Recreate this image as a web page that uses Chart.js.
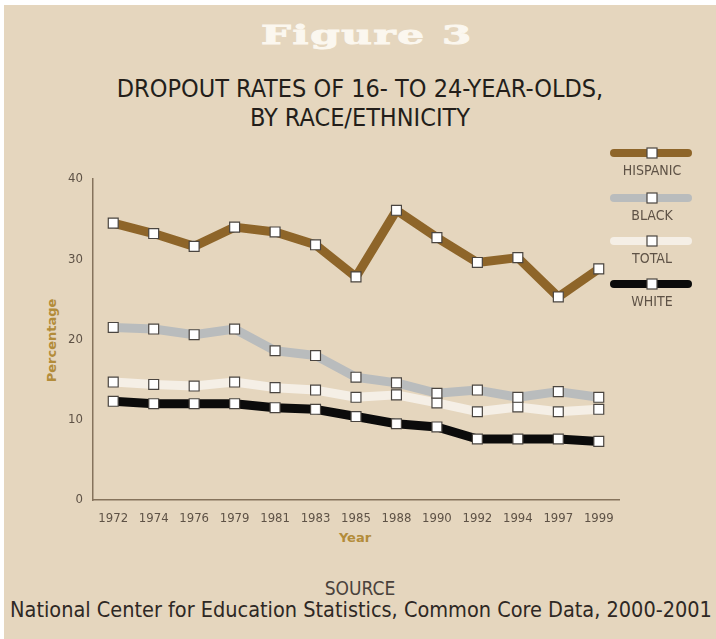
<!DOCTYPE html>
<html>
<head>
<meta charset="utf-8">
<script src="https://cdn.jsdelivr.net/npm/chart.js@4"></script>
<style>
  html, body { margin: 0; padding: 0; background: #ffffff; }
  #page {
    position: absolute; left: 4px; top: 5px; width: 712px; height: 634px;
    background: #e5d6be; overflow: hidden;
  }
  #chart { position: absolute; left: 0; top: 0; }
  .txt { position: absolute; white-space: nowrap; text-align: center; }
  #fig {
    left: 7px; width: 712px; top: 15px;
    font: 900 26px 'DejaVu Serif', serif; letter-spacing: 1px; color: #fbf7ef;
    -webkit-text-stroke: 0.9px #fbf7ef;
    transform: scaleX(1.62); transform-origin: 50% 50%;
  }
  #title {
    left: 0; width: 712px; top: 69px; line-height: 29px;
    font: 25px 'Liberation Sans Narrow', 'DejaVu Sans Condensed', sans-serif; color: #231e1a;
  }
  #ylab {
    left: -3px; top: 328px; width: 100px; transform: rotate(-90deg);
    font: bold 13px 'DejaVu Sans', sans-serif; color: #b38c3a;
  }
  #xlab {
    left: 301px; width: 100px; top: 525px;
    font: bold 13px 'DejaVu Sans', sans-serif; color: #b38c3a;
  }
  #src1 {
    left: 0; width: 712px; top: 572px;
    font: 19px 'Liberation Sans Narrow', 'DejaVu Sans Condensed', sans-serif; color: #4a423c;
  }
  #src2 {
    left: 1px; width: 712px; top: 592px;
    font: 21.5px 'Liberation Sans Narrow', 'DejaVu Sans Condensed', sans-serif; color: #2e2824;
  }
</style>
</head>
<body>
<div id="page">
  <div class="txt" id="fig">Figure 3</div>
  <div class="txt" id="title">DROPOUT RATES OF 16- TO 24-YEAR-OLDS,<br>BY RACE/ETHNICITY</div>
  <div class="txt" id="ylab">Percentage</div>
  <div class="txt" id="xlab">Year</div>
  <div class="txt" id="src1">SOURCE</div>
  <div class="txt" id="src2">National Center for Education Statistics, Common Core Data, 2000-2001</div>
  <canvas id="chart" width="712" height="634"></canvas>
</div>
<script>
// values (percent)
const years = ['1972', '1974', '1976', '1979', '1981', '1983', '1985', '1988', '1990', '1992', '1994', '1997', '1999'];
const hispanic = [34.5, 33.2, 31.6, 34.0, 33.4, 31.8, 27.8, 36.1, 32.7, 29.6, 30.2, 25.3, 28.8];
const black = [21.5, 21.3, 20.6, 21.3, 18.6, 18.0, 15.3, 14.6, 13.3, 13.7, 12.8, 13.5, 12.8];
const total = [14.7, 14.4, 14.2, 14.7, 14.0, 13.7, 12.8, 13.1, 12.1, 11.0, 11.6, 11.0, 11.3];
const white = [12.3, 12.0, 12.0, 12.0, 11.5, 11.3, 10.4, 9.5, 9.1, 7.6, 7.6, 7.6, 7.3];
const yTicks = [0, 10, 20, 30, 40];

const AXIS = '#85735c';
const TICK = '#5e5246';
const NARROW = "'Liberation Sans Narrow', 'DejaVu Sans Condensed', sans-serif";

function series(label, data, color) {
  return {
    label,
    data,
    borderColor: color,
    backgroundColor: color,
    borderWidth: 9,
    borderJoinStyle: 'round',
    tension: 0,
    pointStyle: 'rect',
    pointRadius: 7,
    pointBackgroundColor: '#ffffff',
    pointBorderColor: '#4a4540',
    pointBorderWidth: 1.2,
  };
}

// legend stacked on the right: thick line, square marker, label under it
const sideLegend = {
  id: 'sideLegend',
  afterDraw(chart) {
    const ctx = chart.ctx;
    const x0 = 610, x1 = 684, xm = 648;
    const rows = [148, 193, 236, 279];
    ctx.save();
    chart.data.datasets.forEach((ds, i) => {
      const y = rows[i];
      ctx.strokeStyle = ds.borderColor;
      ctx.lineWidth = 8;
      ctx.lineCap = 'round';
      ctx.beginPath();
      ctx.moveTo(x0, y);
      ctx.lineTo(x1, y);
      ctx.stroke();
      ctx.fillStyle = '#ffffff';
      ctx.strokeStyle = '#4a4540';
      ctx.lineWidth = 1.2;
      ctx.fillRect(xm - 5, y - 5, 10, 10);
      ctx.strokeRect(xm - 5, y - 5, 10, 10);
      ctx.fillStyle = TICK;
      ctx.font = '14px ' + NARROW;
      ctx.textAlign = 'center';
      ctx.textBaseline = 'middle';
      ctx.fillText(ds.label.toUpperCase(), xm, y + 18);
    });
    ctx.restore();
  },
};

new Chart(document.getElementById('chart'), {
  type: 'line',
  data: {
    labels: years,
    datasets: [
      series('Hispanic', hispanic, '#8e6529'),
      series('Black', black, '#b9bcbd'),
      series('Total', total, '#f5efe6'),
      series('White', white, '#0b0b0b'),
    ],
  },
  options: {
    responsive: false,
    animation: false,
    layout: { padding: { left: 0, right: 97, top: 174, bottom: 109 } },
    plugins: { legend: { display: false }, tooltip: { enabled: false } },
    scales: {
      x: {
        offset: true,
        grid: { display: false, drawTicks: false },
        border: { display: true, color: AXIS, width: 1.5 },
        ticks: { color: TICK, font: { size: 13, family: NARROW }, padding: 11, maxRotation: 0, autoSkip: false },
        afterFit(scale) { scale.height = 30; },
      },
      y: {
        min: 0,
        max: 40,
        afterBuildTicks(scale) { scale.ticks = yTicks.map(v => ({ value: v })); },
        grid: { display: false, drawTicks: false },
        border: { display: true, color: AXIS, width: 1.5 },
        ticks: { color: TICK, font: { size: 13, family: NARROW }, padding: 10 },
        afterFit(scale) { scale.width = 89; },
      },
    },
  },
  plugins: [sideLegend],
});
</script>
</body>
</html>
